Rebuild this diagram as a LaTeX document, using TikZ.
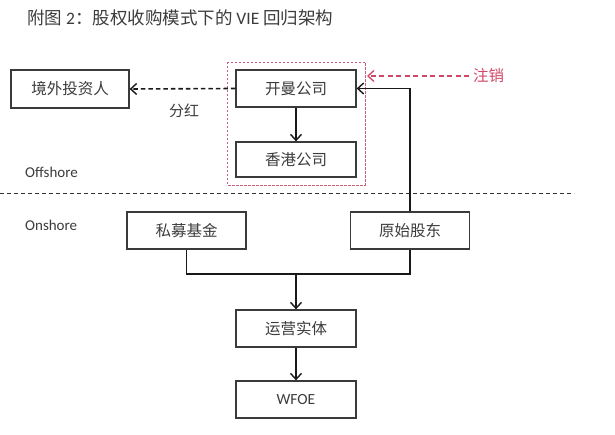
\documentclass[tikz,border=0pt]{standalone}
\usepackage{fontspec}
\setmainfont{Carlito}
\newfontfamily\cjk{Noto Sans CJK SC}
\usetikzlibrary{arrows.meta}
\definecolor{txt}{HTML}{3C3C3C}
\definecolor{edge}{HTML}{3A3A3A}
\definecolor{redl}{HTML}{C8607A}
\definecolor{redt}{HTML}{D04868}
\begin{document}
\begin{tikzpicture}[x=1pt,y=-1pt,
  box/.style={draw=edge,line width=1.3pt,minimum width=120pt,minimum height=37pt,inner sep=0pt,text=txt,font=\cjk\fontsize{15.5}{16}\selectfont},
  lbl/.style={text=txt,inner sep=0pt},
  line/.style={draw=black!90,line width=1.4pt},
  arr/.style={line,-{Straight Barb[length=6pt,width=11pt,line width=1.4pt]}},
  darr/.style={arr,line width=1.6pt,dash pattern=on 4.5pt off 3pt},
  rarr/.style={draw=redt,line width=1.3pt,dash pattern=on 5pt off 3.5pt,-{Straight Barb[length=6pt,width=11pt,line width=1.3pt]}}]
\useasboundingbox (0,0) rectangle (615,435);
\fill[white] (0,0) rectangle (615,435);
% title
\node[lbl,anchor=west,font=\fontsize{17.5}{19}\selectfont] (title) at (27,18) {{\cjk 附图} 2{\cjk ：股权收购模式下的} VIE {\cjk 回归架构}};
% red cancel box
\draw[redl,line width=0.9pt,dash pattern=on 2.5pt off 1.5pt] (227,62) rectangle (365,185);
% boxes
\node[box,minimum width=118pt,minimum height=38pt] (jw) at (70,89) {境外投资人};
\node[box] (km) at (296,88.5) {开曼公司};
\node[box,minimum height=35pt] (xg) at (296,159.5) {香港公司};
\node[box,minimum width=119pt] (sm) at (186.5,230.5) {私募基金};
\node[box,minimum width=119pt] (ys) at (410,230.5) {原始股东};
\node[box] (yy) at (296,328.5) {运营实体};
\node[box,font=\fontsize{15.5}{16}\selectfont] (wf) at (296,399.5) {WFOE};
% labels
\node[lbl,font=\cjk\fontsize{15}{16}\selectfont] (fh) at (184,111) {分红};
\node[lbl,anchor=west,text=redt,font=\cjk\fontsize{15.5}{16}\selectfont] (zx) at (473,76) {注销};
\node[lbl,anchor=west,font=\fontsize{15}{16}\selectfont] (off) at (25,172) {Offshore};
\node[lbl,anchor=west,font=\fontsize{15}{16}\selectfont] (on) at (25,225) {Onshore};
% divider
\coordinate (dl) at (0,194);
\coordinate (dr) at (574,194);
\draw[draw=black!80,line width=1pt,dash pattern=on 4pt off 3pt] (dl) -- (dr);
% connectors
\draw[darr] (km.west) -- (jw.east);
\draw[arr] (km.south) -- (xg.north);
\coordinate (rs) at (469,76);
\coordinate (re) at (367,76);
\draw[rarr] (rs) -- (re);
\draw[arr] (ys.north) |- (km.east);
\coordinate (jn) at (296,274);
\draw[line] (sm.south) |- (jn) -| (ys.south);
\draw[arr] (jn) -- (yy.north);
\draw[arr] (yy.south) -- (wf.north);
\end{tikzpicture}
\end{document}
